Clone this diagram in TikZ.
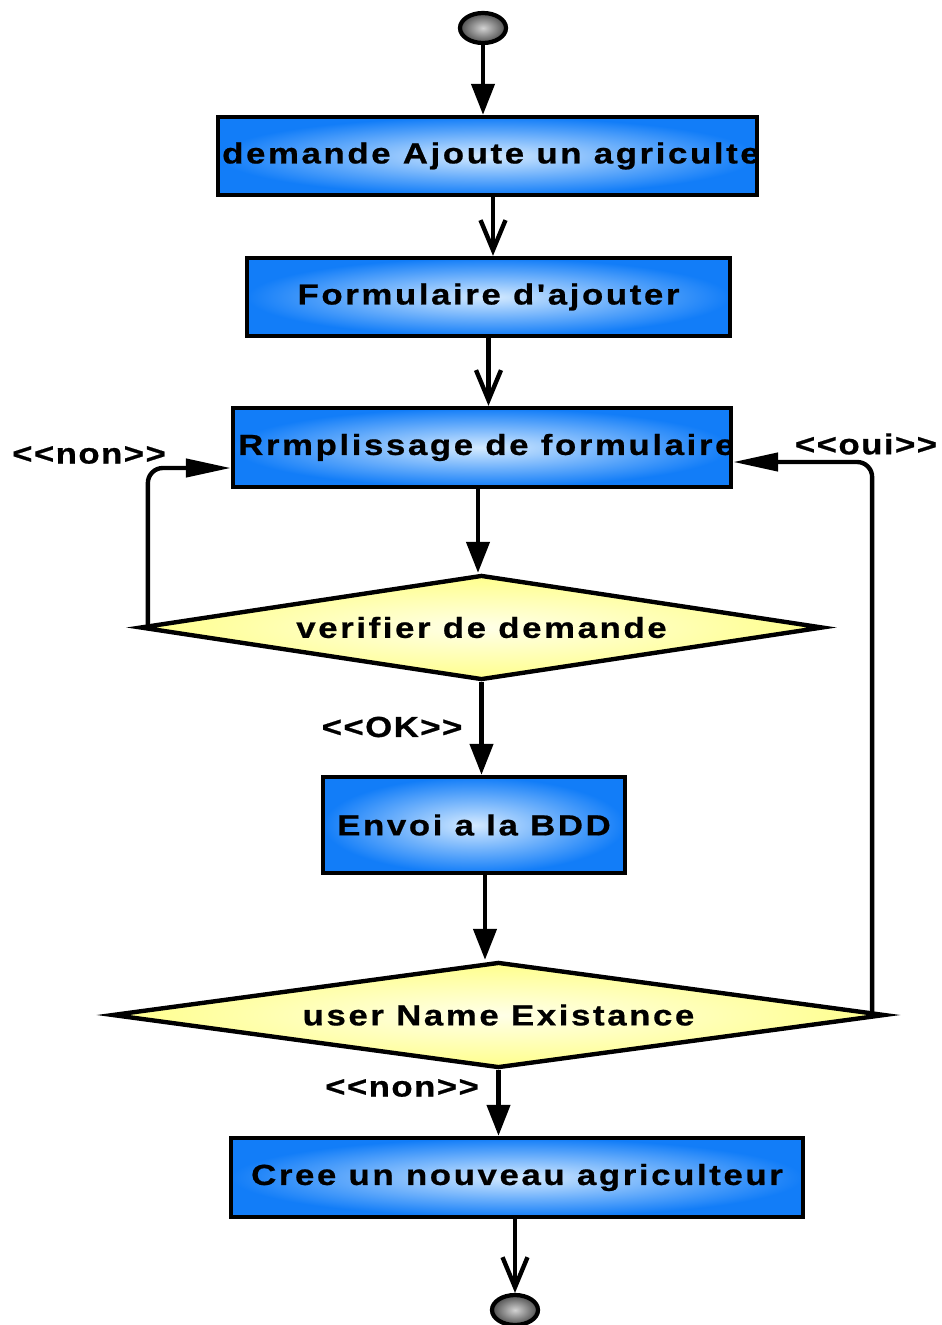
\documentclass[tikz,border=0pt]{standalone}
\usepackage{fontspec}
\newfontfamily\flowfont[LetterSpace=9,FakeStretch=1.2,FakeBold=0.7]{Liberation Sans}
\newfontfamily\lblfont[LetterSpace=5,FakeStretch=1.2,FakeBold=0.7]{Liberation Sans}
\usetikzlibrary{shapes.geometric,arrows.meta}
\definecolor{boxblue}{RGB}{18,125,248}
\definecolor{boxlight}{RGB}{212,234,255}
\definecolor{testyellow}{RGB}{255,255,140}
\definecolor{testlight}{RGB}{255,255,232}
\tikzset{
  stepbox/.style={draw, line width=2.5pt, rectangle, inner sep=0pt,
    inner color=boxlight, outer color=boxblue},
  testbox/.style={draw, line width=2.5pt, diamond, inner sep=0pt,
    inner color=testlight, outer color=testyellow},
  ball/.style={draw, line width=2.4pt, ellipse, inner sep=0pt,
    minimum width=0.92cm, minimum height=0.6cm,
    inner color=gray!35, outer color=black!70},
  txt/.style={font=\flowfont\bfseries\fontsize{16.5}{18}\selectfont},
  lbl/.style={font=\lblfont\bfseries\fontsize{16.5}{18}\selectfont},
  flow/.style={line width=2.5pt, -{Triangle[length=0.62cm,width=0.46cm]}},
  openflow/.style={line width=2.5pt, -{Straight Barb[length=0.6cm,width=0.5cm]}},
  loopflow/.style={line width=2.5pt, rounded corners=0.3cm,
    -{Triangle[length=0.9cm,width=0.36cm]}},
}
\begin{document}
\begin{tikzpicture}[x=0.02cm, y=-0.02cm]
  \useasboundingbox (0,0) rectangle (941,1325);
  % start / end
  \node[ball] (start) at (483,28) {};
  \node[ball] (stop) at (515,1310) {};
  % actions
  \node[stepbox, minimum width=10.78cm, minimum height=1.56cm] (ask) at (487.5,156) {};
  \node[stepbox, txt, minimum width=9.66cm, minimum height=1.56cm] (form) at (488.5,297) {Formulaire d'ajouter};
  \node[stepbox, minimum width=9.96cm, minimum height=1.58cm] (fill) at (482,447.5) {};
  \node[stepbox, txt, minimum width=6.04cm, minimum height=1.92cm] (send) at (474,825) {Envoi a la BDD};
  \node[stepbox, txt, minimum width=11.44cm, minimum height=1.58cm] (create) at (517,1177.5) {Cree un nouveau agriculteur};
  % clipped texts
  \begin{scope}
    \clip ([xshift=1.25pt,yshift=1.25pt]ask.south west) rectangle ([xshift=-1.25pt,yshift=-1.25pt]ask.north east);
    \node[txt, anchor=west, inner sep=0pt] (asktext) at ([xshift=0.12cm]ask.west) {demande Ajoute un agriculte};
  \end{scope}
  \begin{scope}
    \clip ([xshift=1.25pt,yshift=1.25pt]fill.south west) rectangle ([xshift=-1.25pt,yshift=-1.25pt]fill.north east);
    \node[txt, anchor=west, inner sep=0pt] (filltext) at ([xshift=0.14cm]fill.west) {Rrmplissage de formulaire};
  \end{scope}
  % decisions
  \node[testbox, txt, aspect=6.5, minimum width=13.66cm, minimum height=2.1cm] (check) at (481.5,627.5) {verifier de demande};
  \node[testbox, txt, aspect=7.3, minimum width=15.46cm, minimum height=2.12cm] (exists) at (498.5,1015) {user Name Existance};
  % labels
  \node[lbl] (nonleft) at (89,455) {<<non>>};
  \node[lbl] (oui) at (866,444) {<<oui>>};
  \node[lbl] (ok) at (392,727) {<<OK>>};
  \node[lbl] (nonbottom) at (402,1088) {<<non>>};
  % connectors
  \draw[flow] (start) -- (start |- ask.north);
  \draw[openflow] ([xshift=0.11cm]ask.south) -- ([xshift=0.11cm]ask.south |- form.north);
  \draw[openflow] (form.south) -- (form.south |- fill.north);
  \draw[flow] ([xshift=-0.08cm]fill.south) -- ([xshift=-0.08cm]fill.south |- check.north);
  \draw[flow] (check.south) -- (check.south |- send.north);
  \draw[flow] ([xshift=0.22cm]send.south) -- ([xshift=0.22cm]send.south |- exists.north);
  \draw[flow] (exists.south) -- (exists.south |- create.north);
  \draw[openflow] (create.south -| stop) -- (stop.north);
  \draw[loopflow] ([xshift=0.2cm]check.west) |- ([yshift=-0.41cm]fill.west);
  \draw[loopflow] ([xshift=-0.3cm]exists.east) |- ([yshift=-0.29cm]fill.east);
\end{tikzpicture}
\end{document}
